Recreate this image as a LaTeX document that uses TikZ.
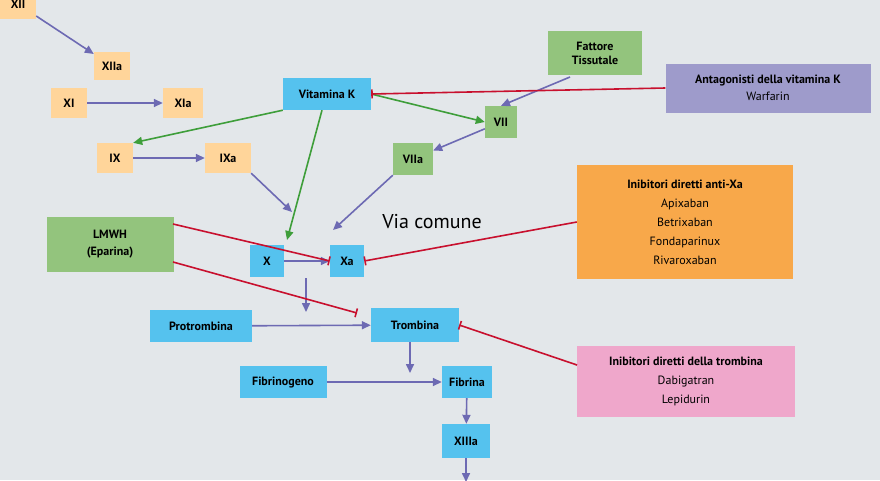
\documentclass[tikz,border=0pt]{standalone}
\usepackage{fontspec}
\setmainfont{PT Sans}
\usetikzlibrary{arrows.meta}
\definecolor{bg}{HTML}{E3E7EA}
\definecolor{org}{HTML}{FFD59A}
\definecolor{blu}{HTML}{55C2EE}
\definecolor{grn}{HTML}{93C47D}
\definecolor{pur}{HTML}{9E9BCB}
\definecolor{org2}{HTML}{F8A84A}
\definecolor{pnk}{HTML}{EFA7CB}
\definecolor{arr}{HTML}{6D6AB3}
\definecolor{garr}{HTML}{3E9E3A}
\definecolor{rarr}{HTML}{C8102E}
\tikzset{
 box/.style={inner sep=0pt,font=\bfseries\fontsize{12}{14}\selectfont,align=center},
 fo/.style={box,fill=org},
 fb/.style={box,fill=blu},
 fg/.style={box,fill=grn},
 pa/.style={draw=arr,line width=1.6pt,-{Triangle[length=9pt,width=8pt]}},
 ga/.style={draw=garr,line width=1.6pt,-{Triangle[length=9pt,width=8pt]}},
 ra/.style={draw=rarr,line width=1.6pt,-{Bar[width=9pt]}},
}
\begin{document}
\begin{tikzpicture}[x=1pt,y=-1pt]
\fill[bg] (0,0) rectangle (880,480);
\useasboundingbox (0,0) rectangle (880,480);
\clip (0,0) rectangle (880,480);
\node[font=\bfseries\fontsize{20}{24}\selectfont,text=white] at (215,-8) {Via intrinseca};
\node[font=\bfseries\fontsize{20}{24}\selectfont,text=white] at (570,-8) {Via estrinseca};
\node[fo,minimum width=36,minimum height=30] (XII) at (18,4) {XII};
\node[fo,minimum width=36,minimum height=28] (XIIa) at (112,66) {XIIa};
\node[fo,minimum width=36,minimum height=30] (XI) at (69,103) {XI};
\node[fo,minimum width=40,minimum height=30] (XIa) at (183,103) {XIa};
\node[fo,minimum width=36,minimum height=30] (IX) at (115,158) {IX};
\node[fo,minimum width=46,minimum height=30] (IXa) at (228,158) {IXa};
\node[fb,minimum width=88,minimum height=32] (VK) at (327,94) {Vitamina K};
\node[fg,minimum width=94,minimum height=44] (FT) at (595,53) {Fattore\\Tissutale};
\node[box,fill=pur,minimum width=205,minimum height=49,font=\fontsize{12}{17}\selectfont] (AV) at (768,88) {\bfseries Antagonisti della vitamina K\\Warfarin};
\node[fg,minimum width=32,minimum height=32] (VII) at (501,122) {VII};
\node[fg,minimum width=40,minimum height=32] (VIIa) at (413,159) {VIIa};
\node[font=\fontsize{20}{24}\selectfont] (VC) at (432,222) {Via comune};
\node[box,fill=org2,minimum width=216,minimum height=114,font=\fontsize{12}{19}\selectfont] (AX) at (685,222) {\bfseries Inibitori diretti anti-Xa\\Apixaban\\Betrixaban\\Fondaparinux\\Rivaroxaban};
\node[fg,minimum width=127,minimum height=55,font=\bfseries\fontsize{12}{17}\selectfont] (LM) at (110,244) {LMWH\\(Eparina)};
\node[fb,minimum width=34,minimum height=32] (X) at (267,261) {X};
\node[fb,minimum width=34,minimum height=32] (Xa) at (347,261) {Xa};
\node[fb,minimum width=102,minimum height=32] (PT) at (201,326) {Protrombina};
\node[fb,minimum width=88,minimum height=34] (TR) at (415,325) {Trombina};
\node[box,fill=pnk,minimum width=218,minimum height=71,font=\fontsize{12}{19}\selectfont] (IT) at (686,381) {\bfseries Inibitori diretti della trombina\\Dabigatran\\Lepidurin};
\node[fb,minimum width=87,minimum height=32] (FG) at (283,382) {Fibrinogeno};
\node[fb,minimum width=50,minimum height=32] (FB) at (467,382) {Fibrina};
\node[fb,minimum width=48,minimum height=34] (XIII) at (466,441) {XIIIa};
\coordinate (bot) at (466,482);
\coordinate (m1) at (306,278);
\coordinate (m2) at (306,312);
\coordinate (t1) at (410,342);
\coordinate (t2) at (410,373);
\coordinate (ix) at (292,212);
\coordinate (vx) at (333,230);
\coordinate (kx) at (287,240);
\coordinate (l1) at (173,224);
\coordinate (l2) at (173,262);
\coordinate (lt) at (357,313);
\coordinate (it1) at (577,365);
\coordinate (ft1) at (570,77);
\draw[pa] (XII) -- (XIIa);
\draw[pa] (XI) -- (XIa);
\draw[pa] (IX) -- (IXa);
\draw[pa] (IXa.south east) -- (ix);
\draw[pa] (ft1) -- (VII.north);
\draw[pa] (VII) -- (VIIa);
\draw[pa] (VIIa.south west) -- (vx);
\draw[pa] (X) -- (Xa);
\draw[pa] (m1) -- (m2);
\draw[pa] (PT) -- (TR);
\draw[pa] (t1) -- (t2);
\draw[pa] (FG) -- (FB);
\draw[pa] (FB) -- (XIII);
\draw[pa] (XIII) -- (bot);
\draw[ga] (VK.south west) -- (IX.north east);
\draw[ga] (VK.south) ++(-5,0) -- (kx);
\draw[ga] (VK.east) -- (VII.west);
\draw[ra] (AV.west) -- (VK.east);
\draw[ra] (l1) -- (Xa.west);
\draw[ra] (l2) -- (lt);
\draw[ra] (AX.west) -- (Xa.east);
\draw[ra] (it1) -- (TR.east);
\end{tikzpicture}
\end{document}
